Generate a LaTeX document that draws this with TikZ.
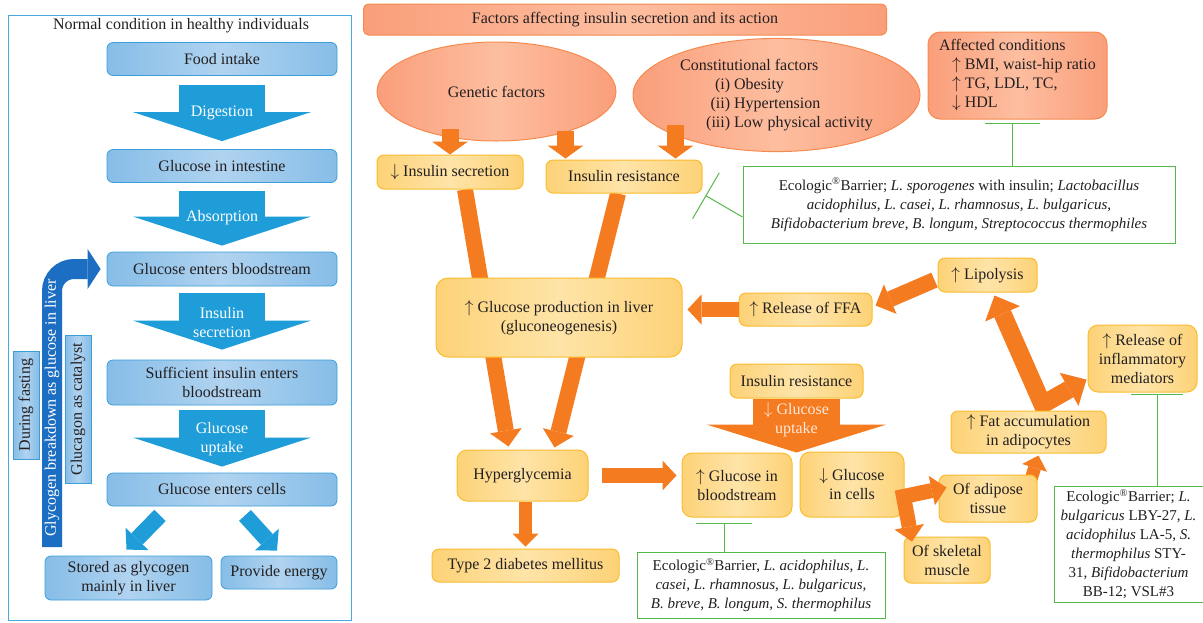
\documentclass[tikz,border=0pt]{standalone}
\usepackage{fontspec}
\setmainfont{Liberation Serif}
\usetikzlibrary{arrows.meta,shapes.geometric,backgrounds}
\definecolor{textdark}{HTML}{231F20}
\definecolor{blueedge}{HTML}{3A9ED9}
\definecolor{blueside}{HTML}{86BDE7}
\definecolor{bluemid}{HTML}{B0D3F0}
\definecolor{bluearr}{HTML}{1F9DD9}
\definecolor{bluedeep}{HTML}{1B6EC2}
\definecolor{framecol}{HTML}{4AA8E0}
\definecolor{orangearr}{HTML}{F47B20}
\definecolor{orangetext}{HTML}{FFE9D9}
\definecolor{salmonside}{HTML}{FA9E7A}
\definecolor{salmonmid}{HTML}{FDBEA0}
\definecolor{salmonedge}{HTML}{F68A4E}
\definecolor{yellowside}{HTML}{FDD277}
\definecolor{yellowmid}{HTML}{FEE4A8}
\definecolor{yellowedge}{HTML}{FBBC2E}
\definecolor{greenline}{HTML}{55B84A}
\tikzset{every node/.append style={font=\fontsize{16}{19}\selectfont,text=textdark}}
\tikzset{
  bluebox/.style={draw=blueedge,line width=0.8pt,rounded corners=6pt,
    left color=blueside,right color=blueside,middle color=bluemid,
    minimum width=230pt,minimum height=33pt,align=center,inner sep=2pt},
  yellowbox/.style={draw=yellowedge,line width=1pt,rounded corners=7pt,
    left color=yellowside,right color=yellowside,middle color=yellowmid,
    minimum height=33pt,align=center,inner sep=2pt},
  salmonbox/.style={draw=salmonedge,line width=1pt,
    left color=salmonside,right color=salmonside,middle color=salmonmid,inner sep=2pt},
  greenbox/.style={draw=greenline,line width=1pt,fill=white,align=center,inner sep=2pt,
    font=\fontsize{15}{19}\selectfont},
  arrowtext/.style={text=white,align=center},
  bluearrow/.style={bluearr,line width=86pt,-{Triangle[width=178pt,length=29pt,line width=0pt]}},
  bluediag/.style={bluearr,line width=16pt,-{Triangle[width=32pt,length=15pt,line width=0pt]}},
  glycarrow/.style={bluedeep,line width=20pt,rounded corners=22pt,
    -{Triangle[width=40pt,length=13pt,line width=0pt]}},
  oarrowS/.style={orangearr,line width=17pt,-{Triangle[width=36pt,length=13pt,line width=0pt]}},
  oarrowL/.style={orangearr,line width=16pt,-{Triangle[width=32pt,length=16pt,line width=0pt]}},
  oarrowM/.style={orangearr,line width=15pt,-{Triangle[width=30pt,length=14pt,line width=0pt]}},
  oarrowD/.style={orangearr,line width=13pt,-{Triangle[width=26pt,length=13pt,line width=0pt]}},
  obend/.style={orangearr,line width=18pt,line join=miter,
    {Triangle[width=38pt,length=20pt,line width=0pt]}-{Triangle[width=38pt,length=20pt,line width=0pt]}},
  osplit/.style={orangearr,line width=15pt,line join=miter,
    {Triangle[width=30pt,length=15pt,line width=0pt]}-{Triangle[width=30pt,length=15pt,line width=0pt]}},
  obig/.style={orangearr,line width=87pt,-{Triangle[width=180pt,length=28pt,line width=0pt]}},
  inhibit/.style={greenline,line width=1pt,-{Bar[width=#1]}},
  inhibit/.default=55pt
}

\begin{document}
\begin{tikzpicture}[x=1pt,y=-1pt]
  \useasboundingbox (0,0) rectangle (1203,622);
  % normal condition panel
  \draw[framecol,line width=1pt] (8,15) rectangle (351,620);
  \node (normal) at (181,26) {Normal condition in healthy individuals};
  \node[bluebox] (food) at (222,59) {Food intake};
  \node[bluebox] (intestine) at (222,166) {Glucose in intestine};
  \node[bluebox,minimum height=34pt] (blood) at (222,269) {Glucose enters bloodstream};
  \node[bluebox,minimum height=45pt] (insuff) at (222,382.5) {Sufficient insulin enters\\bloodstream};
  \node[bluebox] (cells) at (222,489.5) {Glucose enters cells};
  \node[bluebox,minimum width=167pt,minimum height=44pt] (stored) at (128.5,578) {Stored as glycogen\\mainly in liver};
  \node[bluebox,minimum width=116pt] (energy) at (279,572.5) {Provide energy};
  \draw[bluearrow,shorten <=9pt,shorten >=8pt] (food.south) -- (intestine.north)
    node[midway,arrowtext] {Digestion};
  \draw[bluearrow,shorten <=8pt,shorten >=6pt] (intestine.south) -- (blood.north)
    node[midway,arrowtext] {Absorption};
  \draw[bluearrow,shorten <=7pt,shorten >=10pt] (blood.south) -- (insuff.north)
    node[midway,arrowtext] {Insulin\\secretion};
  \draw[bluearrow,shorten <=5pt,shorten >=6pt] (insuff.south) -- (cells.north)
    node[midway,arrowtext] {Glucose\\uptake};
  \draw[bluediag] ([shift={(-62,9)}]cells.south) -- ([shift={(-2,-6)}]stored.north);
  \draw[bluediag] ([shift={(23,9)}]cells.south) -- ([shift={(-2,-5)}]energy.north);
  % fasting
  \coordinate (glycbase) at (52,547);
  \draw[glycarrow] (glycbase) |- ([xshift=-6pt]blood.west);
  \node[rotate=90,text=white] (glyctext) at (52,408) {Glycogen breakdown as glucose in liver};
  \node[bluebox,rounded corners=0pt,rotate=90,minimum width=108pt,minimum height=26pt] (fasting) at (26,405) {During fasting};
  \node[bluebox,rounded corners=0pt,rotate=90,minimum width=148pt,minimum height=26pt] (glucagon) at (78,409) {Glucagon as catalyst};

  % factors panel
  \node[salmonbox,rounded corners=5pt,minimum width=523pt,minimum height=31pt] (factors) at (625,19.5) {Factors affecting insulin secretion and its action};
  \node[salmonbox,ellipse,minimum width=239pt,minimum height=99pt] (genetic) at (496.5,91.5) {Genetic factors};
  \node[salmonbox,ellipse,minimum width=287pt,minimum height=104pt] (constit) at (776.5,95) {%
    \begin{tabular}{@{\hspace{26pt}}r@{ }l@{}}
      \multicolumn{2}{@{}l@{}}{Constitutional factors}\\
      (i) & Obesity\\
      (ii) & Hypertension\\
      (iii) & Low physical activity
    \end{tabular}};
  \node[salmonbox,rounded corners=12pt,minimum width=179pt,minimum height=87pt,align=left] (affected) at (1017.5,75.5)
    {Affected conditions\\\hspace*{13pt}$\uparrow$ BMI, waist-hip ratio\\\hspace*{13pt}$\uparrow$ TG, LDL, TC,\\\hspace*{13pt}$\downarrow$ HDL};
  \node[yellowbox,minimum width=146pt,minimum height=34pt] (insec) at (450,172) {$\downarrow$ Insulin secretion};
  \node[yellowbox,minimum width=156pt] (insres) at (624,176.5) {Insulin resistance};
  \node[greenbox,minimum width=432pt,minimum height=77pt] (barrierA) at (959,204.5)
    {Ecologic\textsuperscript{\textregistered}Barrier; \textit{L. sporogenes} with insulin; \textit{Lactobacillus}\\
     \textit{acidophilus, L. casei, L. rhamnosus, L. bulgaricus,}\\
     \textit{Bifidobacterium breve, B. longum, Streptococcus thermophiles}};
  \node[yellowbox,rounded corners=12pt,minimum width=246pt,minimum height=79pt] (liver) at (559,317.5) {$\uparrow$ Glucose production in liver\\(gluconeogenesis)};
  \node[yellowbox,minimum width=133pt] (ffa) at (805.5,309.5) {$\uparrow$ Release of FFA};
  \node[yellowbox,minimum width=99pt,minimum height=34pt] (lipo) at (987.5,275) {$\uparrow$ Lipolysis};
  \node[yellowbox,minimum width=155pt,minimum height=42pt] (fat) at (1028.5,432) {$\uparrow$ Fat accumulation\\in adipocytes};
  \node[yellowbox,rounded corners=10pt,minimum width=109pt,minimum height=67pt] (inflam) at (1142.5,358.5) {$\uparrow$ Release of\\inflammatory\\mediators};
  \node[greenbox,minimum width=149pt,minimum height=116pt] (barrierC) at (1128.5,544)
    {Ecologic\textsuperscript{\textregistered}Barrier; \textit{L.}\\
     \textit{bulgaricus} LBY-27, \textit{L.}\\
     \textit{acidophilus} LA-5, \textit{S.}\\
     \textit{thermophilus} STY-\\
     31, \textit{Bifidobacterium}\\
     BB-12; VSL\#3};
  \node[yellowbox,minimum width=98pt,minimum height=47pt] (adipose) at (988,498.5) {Of adipose\\tissue};
  \node[yellowbox,minimum width=86pt,minimum height=46pt] (skeletal) at (947,560) {Of skeletal\\muscle};
  \node[yellowbox,rounded corners=10pt,minimum width=104pt,minimum height=65pt] (cellglu) at (852,484.5) {$\downarrow$ Glucose\\in cells};
  \node[yellowbox,rounded corners=10pt,minimum width=110pt,minimum height=64pt] (bloodglu) at (737,485) {$\uparrow$ Glucose in\\bloodstream};
  \node[yellowbox,minimum width=133pt,minimum height=34pt] (insres2) at (796.5,381) {Insulin resistance};
  \node[yellowbox,rounded corners=10pt,minimum width=131pt,minimum height=51pt] (hyper) at (522.5,475.5) {Hyperglycemia};
  \node[yellowbox,minimum width=187pt] (diabetes) at (525.5,565.5) {Type 2 diabetes mellitus};
  \node[greenbox,minimum width=248pt,minimum height=66pt] (barrierB) at (761,585)
    {Ecologic\textsuperscript{\textregistered}Barrier, \textit{L. acidophilus, L.}\\
     \textit{casei, L. rhamnosus, L. bulgaricus,}\\
     \textit{B. breve, B. longum, S. thermophilus}};

  % arrows passing behind boxes
  \begin{scope}[on background layer]
    \draw[oarrowL] ([xshift=15pt]insec.south) -- ([shift={(-14,-3)}]hyper.north);
    \draw[oarrowL] ([xshift=-6pt]insres.south) -- ([shift={(32,-2)}]hyper.north);
    \draw[obend] ([shift={(7,3)}]lipo.south) -- ([shift={(14,-6)}]fat.north) -- ([shift={(-1,21)}]inflam.west);
    \draw[oarrowD] ([shift={(42,8)}]adipose.north) -- ([shift={(10,2)}]fat.south);
  \end{scope}
  \coordinate (genA) at (450,129);
  \coordinate (genB) at (565.5,131);
  \coordinate (conA) at (675.5,125);
  \draw[oarrowS] (genA) -- (insec.north);
  \draw[oarrowS,shorten >=1pt] (genB) -- (genB |- insres.north);
  \draw[oarrowS,shorten >=1pt] (conA) -- (conA |- insres.north);
  \draw[oarrowM,shorten >=5pt] (ffa.west) -- (ffa.west -| liver.east);
  \draw[oarrowL] ([shift={(-3,5)}]lipo.west) -- ([shift={(3,-4)}]ffa.east);
  \draw[osplit] ([shift={(8,-11)}]adipose.west) -- ([shift={(-1,12)}]cellglu.east) -- ([shift={(-35,5)}]skeletal.north);
  \draw[oarrowM,shorten <=13pt,shorten >=5pt] (hyper.east) -- (hyper.east -| bloodglu.west);
  \draw[oarrowD,shorten >=2pt] (hyper.south -| diabetes.north) -- (diabetes.north);
  \draw[obig] (insres2.south) -- (insres2.south |- bloodglu.north)
    node[pos=0.4,text=orangetext,align=center] {$\downarrow$ Glucose\\uptake};

  % probiotic inhibition
  \coordinate (resbar) at ([shift={(3,2)}]insres.south east);
  \coordinate (affbar) at ([shift={(-5.5,3)}]affected.south);
  \coordinate (bloodbar) at ([shift={(-13,5)}]bloodglu.south);
  \coordinate (inflbar) at ([shift={(14.5,1)}]inflam.south);
  \draw[inhibit=53pt] ([yshift=-12.5pt]barrierA.west) -- (resbar);
  \draw[inhibit] (barrierA.north -| affbar) -- (affbar);
  \draw[inhibit=56pt] (barrierB.north -| bloodbar) -- (bloodbar);
  \draw[inhibit=52pt] (barrierC.north -| inflbar) -- (inflbar);
\end{tikzpicture}
\end{document}
